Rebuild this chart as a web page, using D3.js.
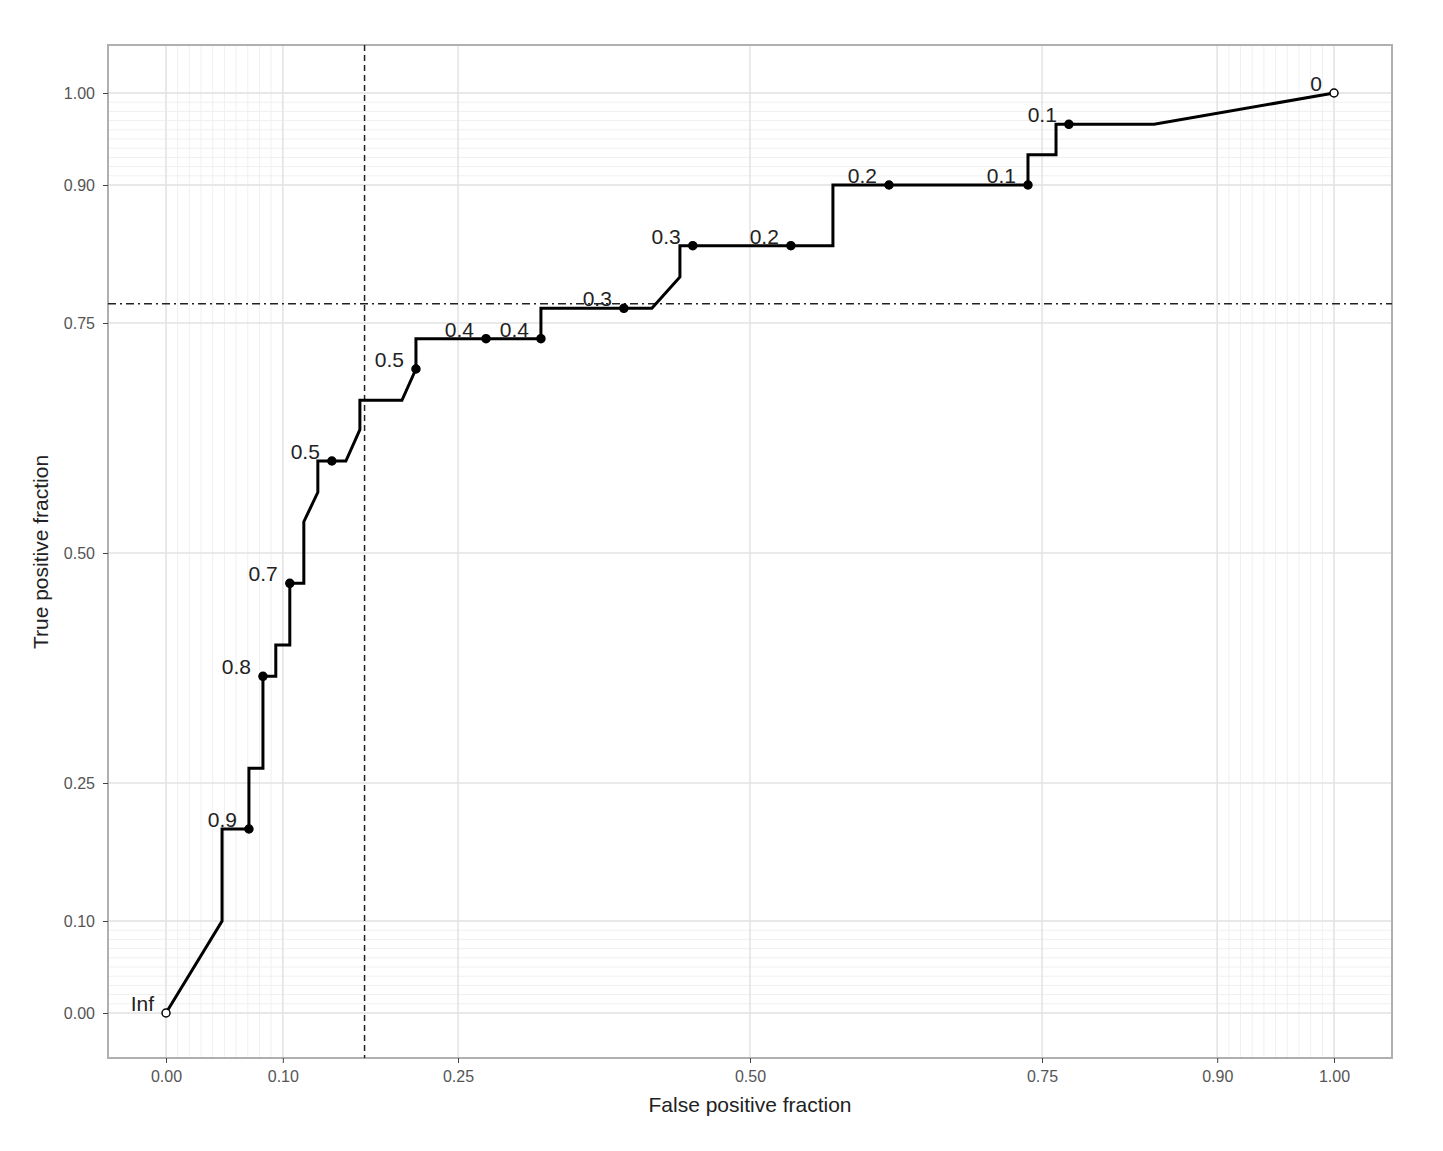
<!DOCTYPE html>
<html><head><meta charset="utf-8">
<script src="https://cdn.jsdelivr.net/npm/d3@7"></script>
<style>body{margin:0;background:#fff}text{font-family:"Liberation Sans",Arial,sans-serif}</style>
</head><body>
<svg id="c" width="1443" height="1151"></svg>
<script>
const curveFPR=[0,0.048,0.048,0.071,0.071,0.083,0.083,0.094,0.094,0.106,0.106,0.118,0.118,0.130,0.130,0.154,0.166,0.166,0.202,0.214,0.214,0.321,0.321,0.416,0.440,0.440,0.571,0.571,0.738,0.738,0.762,0.762,0.846,1];
const curveTPR=[0,0.100,0.200,0.200,0.266,0.266,0.366,0.366,0.400,0.400,0.467,0.467,0.534,0.566,0.600,0.600,0.634,0.666,0.666,0.700,0.733,0.733,0.766,0.766,0.800,0.834,0.834,0.900,0.900,0.933,0.933,0.966,0.966,1];
const cutLabels=["Inf","0.9","0.8","0.7","0.5","0.5","0.4","0.4","0.3","0.3","0.2","0.2","0.1","0.1","0"];
const cutFPR=[0,0.071,0.083,0.106,0.142,0.214,0.274,0.321,0.392,0.451,0.535,0.619,0.738,0.773,1];
const cutTPR=[0,0.200,0.366,0.467,0.600,0.700,0.733,0.733,0.766,0.834,0.834,0.900,0.900,0.966,1];
const tickVals=[0,0.10,0.25,0.50,0.75,0.90,1.00];
const tickLabels=["0.00","0.10","0.25","0.50","0.75","0.90","1.00"];
const refFPR=0.17, refTPR=0.771;

const svg=d3.select("#c");
const L=108,R=1392,T=45,B=1058;
const x=d3.scaleLinear().domain([0,1]).range([166,1334]);
const y=d3.scaleLinear().domain([0,1]).range([1013,93]);
const minor=d3.range(0,101).map(i=>i/100).filter(v=>v<=0.1||v>=0.9);
const g=svg.append("g");
g.selectAll(".mx").data(minor).join("line").attr("x1",d=>x(d)).attr("x2",d=>x(d)).attr("y1",T).attr("y2",B).attr("stroke","#f0f0f0").attr("stroke-width",1);
g.selectAll(".my").data(minor).join("line").attr("y1",d=>y(d)).attr("y2",d=>y(d)).attr("x1",L).attr("x2",R).attr("stroke","#f0f0f0").attr("stroke-width",1);
g.selectAll(".gx").data(tickVals).join("line").attr("x1",d=>x(d)).attr("x2",d=>x(d)).attr("y1",T).attr("y2",B).attr("stroke","#e3e3e3").attr("stroke-width",1.5);
g.selectAll(".gy").data(tickVals).join("line").attr("y1",d=>y(d)).attr("y2",d=>y(d)).attr("x1",L).attr("x2",R).attr("stroke","#e3e3e3").attr("stroke-width",1.5);
svg.append("rect").attr("x",L).attr("y",T).attr("width",R-L).attr("height",B-T).attr("fill","none").attr("stroke","#b0b0b0").attr("stroke-width",2);

const xa=svg.append("g").attr("transform",`translate(0,${B})`).call(d3.axisBottom(x).tickValues(tickVals).tickFormat((d,i)=>tickLabels[i]).tickSize(5).tickPadding(8));
const ya=svg.append("g").attr("transform",`translate(${L},0)`).call(d3.axisLeft(y).tickValues(tickVals).tickFormat((d,i)=>tickLabels[i]).tickSize(5).tickPadding(8));
[xa,ya].forEach(a=>{a.select(".domain").remove();a.selectAll("line").attr("stroke","#444");a.selectAll("text").attr("fill","#555").style("font-size","16px");});

svg.append("line").attr("x1",x(refFPR)).attr("x2",x(refFPR)).attr("y1",T).attr("y2",B).attr("stroke","#222").attr("stroke-width",1.5).attr("stroke-dasharray","6,4");
svg.append("line").attr("x1",L).attr("x2",R).attr("y1",y(refTPR)).attr("y2",y(refTPR)).attr("stroke","#222").attr("stroke-width",1.5).attr("stroke-dasharray","8,4,2,4");

const pts=curveFPR.map((v,i)=>[v,curveTPR[i]]);
svg.append("path").attr("d",d3.line().x(d=>x(d[0])).y(d=>y(d[1]))(pts)).attr("fill","none").attr("stroke","#000").attr("stroke-width",3);

const cuts=cutLabels.map((l,i)=>({l,f:cutFPR[i],t:cutTPR[i],open:i===0||i===cutLabels.length-1}));
svg.selectAll(".pt").data(cuts).join("circle").attr("cx",d=>x(d.f)).attr("cy",d=>y(d.t)).attr("r",4)
 .attr("fill",d=>d.open?"#fff":"#000").attr("stroke","#000").attr("stroke-width",1.5);
svg.selectAll(".lb").data(cuts).join("text").attr("x",d=>x(d.f)-12).attr("y",d=>y(d.t)-2).attr("text-anchor","end")
 .style("font-size","21px").attr("fill","#222").text(d=>d.l);

svg.append("text").attr("x",750).attr("y",1112).attr("text-anchor","middle").style("font-size","21px").attr("fill","#222").text("False positive fraction");
svg.append("text").attr("transform","translate(48,552) rotate(-90)").attr("text-anchor","middle").style("font-size","21px").attr("fill","#222").text("True positive fraction");
</script></body></html>
